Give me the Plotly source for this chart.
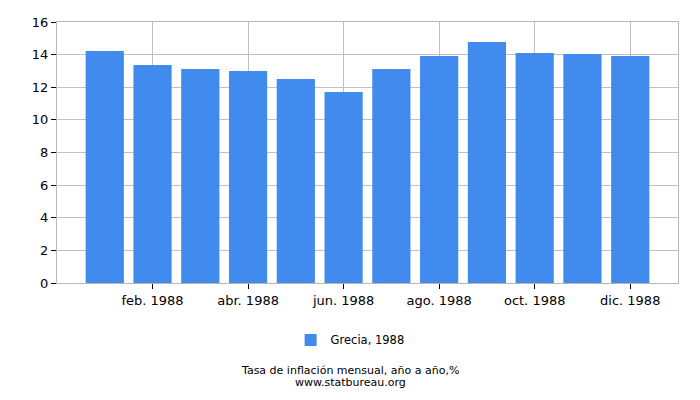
import plotly.graph_objects as go

months = ["ene. 1988", "feb. 1988", "mar. 1988", "abr. 1988", "may. 1988", "jun. 1988",
          "jul. 1988", "ago. 1988", "sep. 1988", "oct. 1988", "nov. 1988", "dic. 1988"]
values = [14.22, 13.37, 13.12, 13.0, 12.5, 11.71, 13.12, 13.92, 14.78, 14.10, 14.04, 13.92]
tick_idx = [1, 3, 5, 7, 9, 11]
tick_labels = [months[i] for i in tick_idx]
series_name = "Grecia, 1988"
title_text = "Tasa de inflación mensual, año a año,%"
source_text = "www.statbureau.org"

x_idx = list(range(len(months)))

fig = go.Figure()
fig.add_trace(go.Bar(
    x=x_idx, y=values, name=series_name,
    marker=dict(color="#428BEE", line=dict(width=0)),
    width=0.8,
    hovertext=months,
))

font_family = "DejaVu Sans"
fig.update_layout(
    width=700, height=400,
    margin=dict(l=57, r=22, t=22, b=117),
    paper_bgcolor="white", plot_bgcolor="white",
    font=dict(family=font_family, color="black", size=13),
    showlegend=True,
    legend=dict(orientation="h", x=0.472, xanchor="center", y=-0.218, yanchor="middle",
                font=dict(size=11.5), itemwidth=30),
    xaxis=dict(
        range=[-1, 12], tickmode="array", tickvals=tick_idx, ticktext=tick_labels,
        showgrid=True, gridcolor="#c0c0c0", gridwidth=1,
        showline=True, linecolor="#b8b8b8", linewidth=1, mirror=True,
        ticks="outside", tickcolor="black", ticklen=5, tickwidth=1,
        tickfont=dict(size=13), zeroline=False,
    ),
    yaxis=dict(
        range=[0, 16], tickmode="array", tickvals=[0, 2, 4, 6, 8, 10, 12, 14, 16],
        showgrid=True, gridcolor="#c0c0c0", gridwidth=1,
        showline=True, linecolor="#b8b8b8", linewidth=1, mirror=True,
        ticks="outside", tickcolor="black", ticklen=5, tickwidth=1,
        tickfont=dict(size=13), zeroline=False,
    ),
    annotations=[
        dict(text=title_text, xref="paper", yref="paper", x=0.472, y=-0.335,
             xanchor="center", yanchor="middle", showarrow=False, font=dict(size=11)),
        dict(text=source_text, xref="paper", yref="paper", x=0.472, y=-0.381,
             xanchor="center", yanchor="middle", showarrow=False, font=dict(size=11)),
    ],
)

fig.write_html("out.html",
               config={"displayModeBar": False},
               post_script="document.body.style.margin='0';document.body.style.overflow='hidden';")
